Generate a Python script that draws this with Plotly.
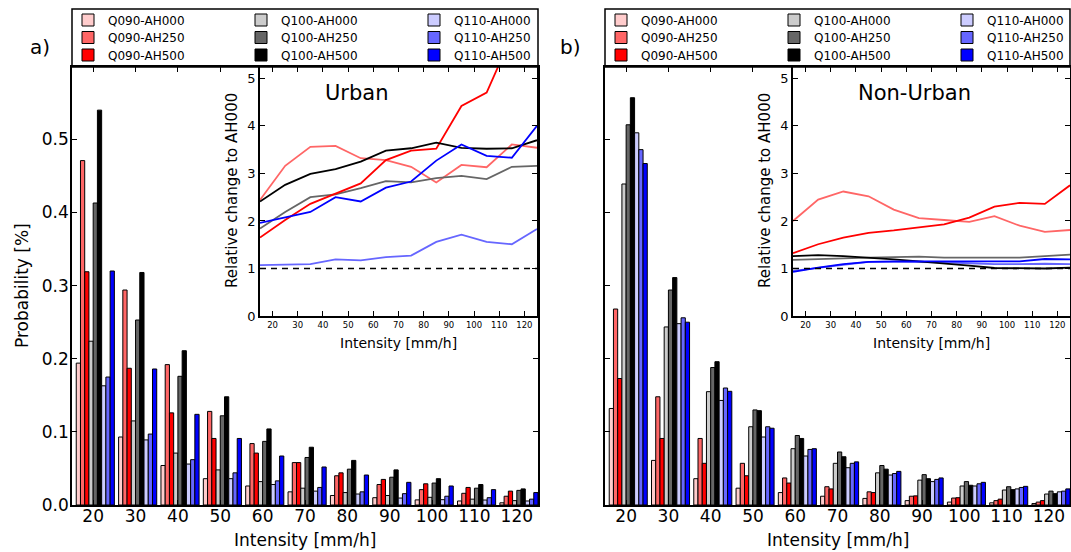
import plotly.graph_objects as go

W, H = 1071, 552
FONT = "DejaVu Sans"

# ---------------- data ----------------
intensity = [20, 30, 40, 50, 60, 70, 80, 90, 100, 110, 120]
series_names = ["Q090-AH000", "Q090-AH250", "Q090-AH500",
                "Q100-AH000", "Q100-AH250", "Q100-AH500",
                "Q110-AH000", "Q110-AH250", "Q110-AH500"]
series_colors = ["#ffcccc", "#ff6666", "#ff0000",
                 "#cccccc", "#666666", "#000000",
                 "#ccccff", "#6666ff", "#0000ff"]

# Panel a) probabilities [%]
a_q090_ah000 = [0.194, 0.093, 0.054, 0.036, 0.026, 0.018, 0.013, 0.010, 0.007, 0.0055, 0.003]
a_q090_ah250 = [0.471, 0.294, 0.192, 0.128, 0.084, 0.058, 0.040, 0.028, 0.021, 0.016, 0.012]
a_q090_ah500 = [0.319, 0.187, 0.126, 0.091, 0.071, 0.058, 0.044, 0.035, 0.029, 0.024, 0.019]
a_q100_ah000 = [0.224, 0.115, 0.071, 0.048, 0.032, 0.023, 0.017, 0.013, 0.0105, 0.008, 0.006]
a_q100_ah250 = [0.413, 0.253, 0.176, 0.122, 0.087, 0.065, 0.049, 0.038, 0.030, 0.023, 0.020]
a_q100_ah500 = [0.540, 0.318, 0.211, 0.148, 0.104, 0.079, 0.061, 0.048, 0.036, 0.028, 0.022]
a_q110_ah000 = [0.163, 0.089, 0.056, 0.036, 0.028, 0.019, 0.015, 0.0095, 0.0073, 0.0068, 0.0055]
a_q110_ah250 = [0.175, 0.097, 0.062, 0.044, 0.033, 0.024, 0.018, 0.0155, 0.012, 0.010, 0.008]
a_q110_ah500 = [0.320, 0.186, 0.124, 0.091, 0.067, 0.052, 0.041, 0.031, 0.026, 0.021, 0.017]

# Panel b) probabilities [%]
b_q090_ah000 = [0.132, 0.061, 0.036, 0.023, 0.017, 0.012, 0.009, 0.006, 0.004, 0.003, 0.002]
b_q090_ah250 = [0.268, 0.148, 0.091, 0.057, 0.037, 0.025, 0.018, 0.012, 0.0095, 0.006, 0.004]
b_q090_ah500 = [0.173, 0.091, 0.057, 0.040, 0.030, 0.022, 0.017, 0.0125, 0.010, 0.008, 0.006]
b_q100_ah000 = [0.439, 0.2435, 0.155, 0.107, 0.077, 0.057, 0.044, 0.034, 0.026, 0.0205, 0.015]
b_q100_ah250 = [0.520, 0.294, 0.188, 0.130, 0.095, 0.0725, 0.054, 0.0415, 0.032, 0.025, 0.019]
b_q100_ah500 = [0.557, 0.311, 0.196, 0.129, 0.091, 0.066, 0.049, 0.036, 0.027, 0.021, 0.0155]
b_q110_ah000 = [0.509, 0.248, 0.143, 0.093, 0.067, 0.051, 0.041, 0.032, 0.026, 0.022, 0.018]
b_q110_ah250 = [0.486, 0.256, 0.160, 0.107, 0.076, 0.057, 0.043, 0.035, 0.029, 0.024, 0.019]
b_q110_ah500 = [0.467, 0.250, 0.1555, 0.105, 0.077, 0.059, 0.046, 0.037, 0.031, 0.0255, 0.022]

# Insets: relative change to AH000
inset_intensity = [15, 25, 35, 45, 55, 65, 75, 85, 95, 105, 115, 125]
inset_ticks = [20, 30, 40, 50, 60, 70, 80, 90, 100, 110, 120]
ah000_level = 1.0

urban_q090_ah250 = [2.44, 3.16, 3.56, 3.58, 3.32, 3.28, 3.14, 2.81, 3.18, 3.13, 3.61, 3.54]
urban_q090_ah500 = [1.65, 2.02, 2.36, 2.58, 2.79, 3.28, 3.48, 3.52, 4.42, 4.70, 5.90, 6.30]
urban_q100_ah250 = [1.84, 2.19, 2.50, 2.56, 2.69, 2.84, 2.81, 2.90, 2.95, 2.88, 3.14, 3.16]
urban_q100_ah500 = [2.41, 2.76, 2.99, 3.09, 3.25, 3.48, 3.53, 3.65, 3.54, 3.52, 3.53, 3.70]
urban_q110_ah250 = [1.07, 1.08, 1.09, 1.19, 1.17, 1.24, 1.27, 1.56, 1.71, 1.56, 1.51, 1.83]
urban_q110_ah500 = [1.96, 2.08, 2.19, 2.50, 2.41, 2.70, 2.83, 3.27, 3.61, 3.37, 3.33, 4.00]

nonurban_q090_ah250 = [2.00, 2.45, 2.62, 2.52, 2.24, 2.06, 2.02, 1.98, 2.10, 1.90, 1.77, 1.81]
nonurban_q090_ah500 = [1.32, 1.51, 1.65, 1.75, 1.80, 1.86, 1.93, 2.07, 2.30, 2.38, 2.36, 2.75]
nonurban_q100_ah250 = [1.18, 1.20, 1.21, 1.23, 1.24, 1.25, 1.23, 1.23, 1.23, 1.23, 1.26, 1.29]
nonurban_q100_ah500 = [1.26, 1.28, 1.26, 1.23, 1.19, 1.15, 1.11, 1.06, 1.01, 1.00, 1.00, 1.02]
nonurban_q110_ah250 = [0.95, 1.01, 1.08, 1.14, 1.14, 1.14, 1.13, 1.11, 1.09, 1.09, 1.10, 1.09]
nonurban_q110_ah500 = [0.93, 1.02, 1.09, 1.14, 1.15, 1.15, 1.15, 1.14, 1.14, 1.15, 1.20, 1.19]

panel_a = [a_q090_ah000, a_q090_ah250, a_q090_ah500, a_q100_ah000, a_q100_ah250,
           a_q100_ah500, a_q110_ah000, a_q110_ah250, a_q110_ah500]
panel_b = [b_q090_ah000, b_q090_ah250, b_q090_ah500, b_q100_ah000, b_q100_ah250,
           b_q100_ah500, b_q110_ah000, b_q110_ah250, b_q110_ah500]
urban_lines = [(urban_q090_ah250, "#ff6666"), (urban_q100_ah250, "#666666"),
               (urban_q110_ah250, "#6666ff"), (urban_q090_ah500, "#ff0000"),
               (urban_q100_ah500, "#000000"), (urban_q110_ah500, "#0000ff")]
nonurban_lines = [(nonurban_q090_ah250, "#ff6666"), (nonurban_q100_ah250, "#666666"),
                  (nonurban_q110_ah250, "#6666ff"), (nonurban_q090_ah500, "#ff0000"),
                  (nonurban_q100_ah500, "#000000"), (nonurban_q110_ah500, "#0000ff")]


def px_x(p):
    return p / W


def px_y(p):
    return 1 - p / H


# ---------------- figure ----------------
fig = go.Figure()

legend_col_px = [68, 241, 414]          # legend column left edges (panel a)
legend_row_px = [20, 37.5, 55]          # legend row centres
panel_shift = 533                       # panel b offset

legend_layouts = {}
for p_idx, (panel, xa, ya) in enumerate([(panel_a, "x", "y"), (panel_b, "x2", "y2")]):
    for i, (vals, name, col) in enumerate(zip(panel, series_names, series_colors)):
        n = p_idx * 9 + i + 1
        key = "legend" if n == 1 else f"legend{n}"
        legend_layouts[key] = dict(
            x=px_x(legend_col_px[i // 3] + p_idx * panel_shift), y=px_y(legend_row_px[i % 3]),
            xanchor="left", yanchor="middle", bgcolor="rgba(0,0,0,0)", borderwidth=0,
            itemwidth=30, orientation="v", font=dict(family=FONT, size=12, color="black"))
        fig.add_trace(go.Bar(
            x=intensity, y=vals, name=name, width=1, offset=i - 4,
            marker=dict(color=col, line=dict(color="black", width=1)),
            xaxis=xa, yaxis=ya, legend=key, showlegend=True,
        ))

for lines, xa, ya in [(urban_lines, "x3", "y3"), (nonurban_lines, "x4", "y4")]:
    for vals, col in lines:
        fig.add_trace(go.Scatter(
            x=inset_intensity, y=vals, mode="lines",
            line=dict(color=col, width=1.8), xaxis=xa, yaxis=ya, showlegend=False,
        ))
    fig.add_shape(type="line", xref=f"{xa} domain", yref=ya, x0=0, x1=1,
                  y0=ah000_level, y1=ah000_level,
                  line=dict(color="black", width=1.5, dash="6px,5px"))

main_y_dom = [px_y(505), px_y(67)]
inset_y_dom = [px_y(316), px_y(67)]

axis_common = dict(showline=True, linecolor="black", linewidth=1.5, mirror="ticks",
                   ticks="inside", ticklen=5, tickcolor="black", tickwidth=1,
                   showgrid=False, zeroline=False)

fig.update_layout(
    width=W, height=H,
    margin=dict(l=0, r=0, t=0, b=0, autoexpand=False),
    paper_bgcolor="white", plot_bgcolor="white",
    barmode="overlay",
    font=dict(family=FONT, color="black"),
    xaxis=dict(domain=[px_x(72), px_x(538)], range=[15, 125], tickvals=intensity,
               tickfont=dict(size=17), ticklabelstandoff=-5, anchor="y", **axis_common),
    yaxis=dict(domain=main_y_dom, range=[0, 0.599], tickvals=[0, 0.1, 0.2, 0.3, 0.4, 0.5],
               tickformat=".1f", tickfont=dict(size=17), ticklabelstandoff=-2,
               anchor="x", **axis_common),
    xaxis2=dict(domain=[px_x(605), px_x(1070)], range=[15, 125], tickvals=intensity,
                tickfont=dict(size=17), ticklabelstandoff=-5, anchor="y2", **axis_common),
    yaxis2=dict(domain=main_y_dom, range=[0, 0.599], tickvals=[0, 0.1, 0.2, 0.3, 0.4, 0.5],
                showticklabels=False, anchor="x2", **axis_common),
    xaxis3=dict(domain=[px_x(260), px_x(537)], range=[15, 125], tickvals=inset_ticks,
                tickfont=dict(size=8.5), anchor="y3", **axis_common),
    yaxis3=dict(domain=inset_y_dom, range=[0, 5.24], tickvals=[0, 1, 2, 3, 4, 5],
                tickfont=dict(size=13), anchor="x3", **axis_common),
    xaxis4=dict(domain=[px_x(793), px_x(1070)], range=[15, 125], tickvals=inset_ticks,
                tickfont=dict(size=8.5), anchor="y4", **axis_common),
    yaxis4=dict(domain=inset_y_dom, range=[0, 5.24], tickvals=[0, 1, 2, 3, 4, 5],
                tickfont=dict(size=13), anchor="x4", **axis_common),
)
fig.update_layout(legend_layouts)

# legend frames
for x0, x1 in [(72, 538), (605, 1070)]:
    fig.add_shape(type="rect", xref="paper", yref="paper",
                  x0=px_x(x0), x1=px_x(x1), y0=px_y(67), y1=px_y(9),
                  line=dict(color="black", width=1.5), fillcolor="rgba(0,0,0,0)")


def ann(text, x, y, size, angle=0):
    fig.add_annotation(text=text, x=px_x(x), y=px_y(y), xref="paper", yref="paper",
                       showarrow=False, textangle=angle, xanchor="center", yanchor="middle",
                       font=dict(family=FONT, size=size, color="black"))


ann("Probability [%]", 22, 286, 17, -90)
ann("Intensity [mm/h]", 305, 540, 17)
ann("Intensity [mm/h]", 838, 540, 17)
ann("Relative change to AH000", 232, 191, 15, -90)
ann("Relative change to AH000", 765, 191, 15, -90)
ann("Intensity [mm/h]", 398, 343, 14)
ann("Intensity [mm/h]", 931, 343, 14)
ann("Urban", 357, 93, 21)
ann("Non-Urban", 914, 93, 21)
ann("a)", 40, 47, 20)
ann("b)", 570, 47, 20)

fig.write_html("out.html")
